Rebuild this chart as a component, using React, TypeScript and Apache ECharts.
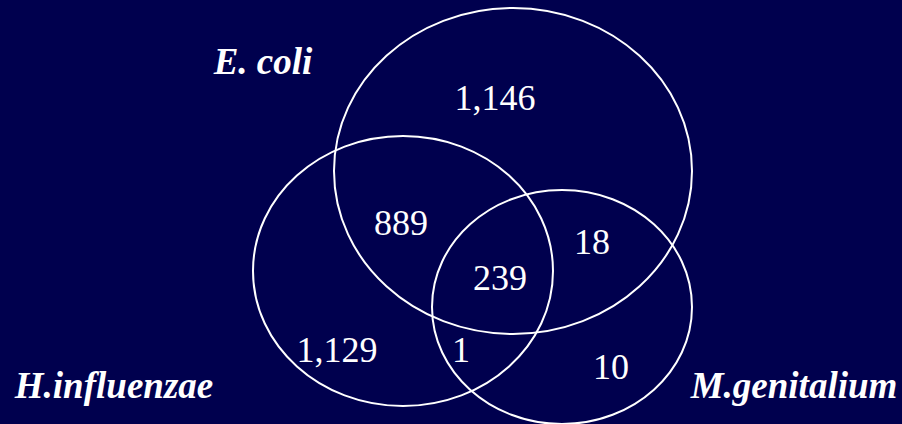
import React, { useEffect, useRef } from "react";
import * as echarts from "echarts";

// Venn diagram content
const setNames = ["E. coli", "H.influenzae", "M.genitalium"];
const regionLabels = ["1,146", "889", "239", "18", "1,129", "1", "10"];

// layout (chart coordinate space = pixels of a 902x424 canvas)
const ellipseLayout = [
  [513, 171, 179, 163],
  [403, 271, 150, 135],
  [562, 307, 130, 117],
];
const setLabelPos = [
  [263, 61],
  [114, 385],
  [794, 385],
];
const regionPos = [
  [495, 98],
  [401, 223],
  [500, 278],
  [592, 242],
  [337, 350],
  [461, 350],
  [611, 367],
];

export default function App() {
  const ref = useRef<HTMLDivElement>(null);
  useEffect(() => {
    if (!ref.current) return;
    const chart = echarts.init(ref.current, undefined, { renderer: "svg" });
    chart.setOption({
      animation: false,
      backgroundColor: "#00004e",
      textStyle: { fontFamily: "serif" },
      grid: { left: 0, right: 0, top: 0, bottom: 0 },
      xAxis: { type: "value", min: 0, max: 902, show: false },
      yAxis: { type: "value", min: 0, max: 424, inverse: true, show: false },
      series: [
        {
          type: "custom",
          name: "sets",
          data: ellipseLayout.map((e, i) => [...e, i]),
          renderItem: (params: any, api: any) => {
            const c = api.coord([api.value(0), api.value(1)]);
            const s = api.size([api.value(2), api.value(3)]);
            return {
              type: "ellipse",
              shape: { cx: c[0], cy: c[1], rx: s[0], ry: s[1] },
              style: { fill: "none", stroke: "#ffffff", lineWidth: 2 },
            };
          },
          silent: true,
        },
        {
          type: "scatter",
          name: "regions",
          symbolSize: 0,
          itemStyle: { opacity: 1 },
          data: regionPos.map((p, i) => ({ value: [p[0], p[1]], name: regionLabels[i] })),
          label: {
            show: true,
            position: "inside",
            formatter: (p: any) => p.name,
            color: "#ffffff",
            opacity: 1,
            fontFamily: "serif",
            fontSize: 36,
          },
          silent: true,
        },
        {
          type: "scatter",
          name: "setNames",
          symbolSize: 0,
          itemStyle: { opacity: 1 },
          data: setLabelPos.map((p, i) => ({ value: [p[0], p[1]], name: setNames[i] })),
          label: {
            show: true,
            position: "inside",
            formatter: (p: any) => p.name,
            color: "#ffffff",
            opacity: 1,
            fontFamily: "serif",
            fontSize: 37,
            fontWeight: "bold",
            fontStyle: "italic",
          },
          silent: true,
        },
      ],
    });
    return () => chart.dispose();
  }, []);
  return (
    <div
      ref={ref}
      style={{ position: "fixed", left: 0, top: 0, width: 902, height: 424 }}
    />
  );
}
